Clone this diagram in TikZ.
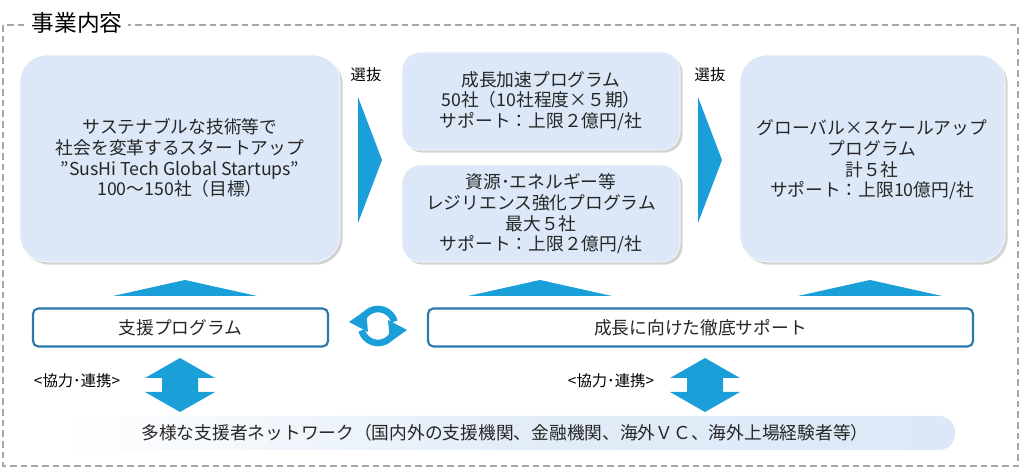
\documentclass[tikz,border=0pt]{standalone}
\usepackage{fontspec}
\setmainfont{Noto Sans CJK JP}
\usetikzlibrary{shadows,arrows.meta}
\definecolor{ab}{HTML}{1A9FD9}
\definecolor{lb}{HTML}{DCE8F7}
\definecolor{ob}{HTML}{2A78AE}
\begin{document}
\begin{tikzpicture}[x=0.75pt,y=-0.75pt,
  card/.style={draw=white,fill=lb,rounded corners=20pt,drop shadow={shadow xshift=2pt,shadow yshift=-2pt,opacity=0.35}},
  txt/.style={font=\fontsize{13.3}{15.5}\selectfont,align=center,text=black!85},
  obox/.style={draw=ob,line width=1.6pt,rounded corners=4pt,fill=white},
  lab/.style={font=\fontsize{11.5}{13}\selectfont}]
\useasboundingbox (0,0) rectangle (1022,470);
\draw[gray!70,line width=1.5pt,dash pattern=on 5pt off 3pt] (3,25) rectangle (1018,466);
\node[fill=white,font=\fontsize{17}{19}\selectfont,inner sep=4pt] (title) at (77,23) {事業内容};
% cards
\path[card] (20,55) rectangle (340,262);
\node[txt] (b1) at (180,158) {サステナブルな技術等で\\社会を変革するスタートアップ\\”SusHi Tech Global Startups”\\100～150社（目標）};
\path[card,rounded corners=14pt] (402,52) rectangle (680,150);
\node[txt] (b2a) at (541,101) {成長加速プログラム\\50社（10社程度×５期）\\サポート：上限２億円/社};
\path[card,rounded corners=14pt] (402,165) rectangle (680,262);
\node[txt] (b2b) at (541,214) {資源･エネルギー等\\レジリエンス強化プログラム\\最大５社\\サポート：上限２億円/社};
\path[card] (740,55) rectangle (1005,262);
\node[txt] (b3) at (872,160) {グローバル×スケールアップ\\プログラム\\計５社\\サポート：上限10億円/社};
% selection arrows
\fill[ab] (358,97) -- (382,160) -- (358,223) -- cycle;
\fill[ab] (698,97) -- (722,160) -- (698,223) -- cycle;
\node[lab] (s1) at (366,75) {選抜};
\node[lab] (s2) at (710,75) {選抜};
% up triangles
\foreach \c in {185,540,870}{\fill[ab] (\c-72,296) -- (\c,280) -- (\c+72,296) -- cycle;}
% outline boxes
\node[obox,minimum width=295*0.75pt,minimum height=38*0.75pt,txt] (p1) at (180.5,327.5) {支援プログラム};
\node[obox,minimum width=545*0.75pt,minimum height=38*0.75pt,txt] (p2) at (700.5,327.5) {成長に向けた徹底サポート};
% cycle icon
\coordinate (cy) at (378,326);
\draw[ab,line width=5pt] ([shift={(200:17)}]cy) arc (200:345:17);
\draw[ab,line width=5pt] ([shift={(20:17)}]cy) arc (20:165:17);
\fill[ab] (349,322) -- (366,310) -- (368,332) -- cycle;
\fill[ab] (407,330) -- (390,342) -- (388,320) -- cycle;
% double arrows
\foreach \c in {180,705}{
\fill[ab] (\c,358) -- (\c+35,378) -- (\c+18,378) -- (\c+18,392) -- (\c+35,392) -- (\c,412) -- (\c-35,392) -- (\c-18,392) -- (\c-18,378) -- (\c-35,378) -- cycle;}
\node[lab] (k1) at (77,381) {<協力･連携>};
\node[lab] (k2) at (611,381) {<協力･連携>};
% bottom bar
\shade[left color=white,right color=lb,middle color=lb!80,rounded corners=12pt] (60,416) rectangle (955,450);
\node[txt] (net) at (505,433) {多様な支援者ネットワーク（国内外の支援機関、金融機関、海外ＶＣ、海外上場経験者等）};
\end{tikzpicture}
\end{document}
